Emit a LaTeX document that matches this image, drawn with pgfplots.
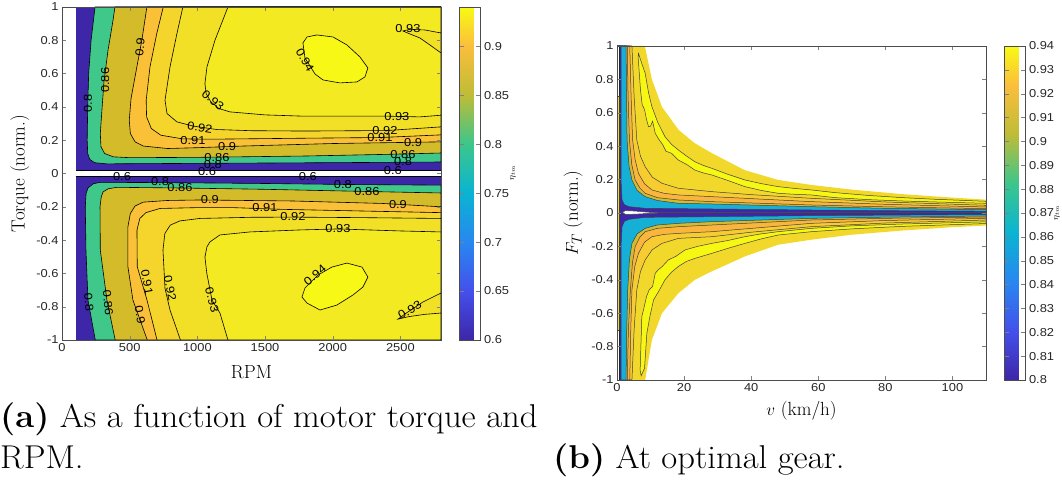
\documentclass[border=0pt]{standalone}
\usepackage{fontspec}
\usepackage{graphicx}
\usepackage{pgfplots}
\pgfplotsset{compat=1.18}
\newfontfamily\tickfamily{Liberation Sans}[FakeStretch=1.12]
\newcommand\tf{\fontsize{11.5}{13}\tickfamily}
\newcommand\lf{\fontsize{19}{22}\selectfont}
\newcommand\cf{\fontsize{33}{40}\selectfont}
% left map colours
\definecolor{lB}{RGB}{62,38,168}
\definecolor{lG}{RGB}{64,200,138}
\definecolor{lO}{RGB}{212,187,42}
\definecolor{l90}{RGB}{250,192,55}
\definecolor{l91}{RGB}{245,212,44}
\definecolor{l92}{RGB}{241,224,38}
\definecolor{l93}{RGB}{243,234,33}
\definecolor{l94}{RGB}{248,248,22}
% right map colours
\definecolor{rB}{RGB}{62,38,168}
\definecolor{rC}{RGB}{22,176,214}
\definecolor{rO}{RGB}{214,186,46}
\definecolor{rOr}{RGB}{250,182,60}
\definecolor{rGd}{RGB}{246,204,48}
\definecolor{rY}{RGB}{242,216,42}
\definecolor{rBr}{RGB}{247,247,20}
\pgfplotsset{
  colormap={myparula}{rgb255(0cm)=(62,38,168) rgb255(1.47cm)=(68,80,235) rgb255(2.94cm)=(40,135,240) rgb255(4.41cm)=(10,180,210) rgb255(5.88cm)=(60,198,140) rgb255(7.35cm)=(190,188,55) rgb255(8.82cm)=(250,190,60) rgb255(10cm)=(249,250,20)},
  mystyle/.style={scale only axis, axis on top, tick label style={font=\tf, color=black!85},
    /pgf/number format/assume math mode=true, /pgf/number format/1000 sep={},
    scaled ticks=false, axis line style={black!70}, label style={font=\lf}},
  cbstyle/.style={at={(parent axis.north east)}, anchor=north west, xshift=10pt, width=21pt, scale only axis,
    tick label style={font=\tf, color=black!85}, /pgf/number format/assume math mode=true,
    /pgf/number format/precision=2, axis line style={black!70}},
}
\tikzset{lab/.style={font=\tf, inner sep=0.5pt}}
\begin{document}
\begin{tikzpicture}
\useasboundingbox (0pt,0pt) rectangle (1062pt,479pt);
% ================= LEFT =================
\begin{axis}[mystyle, at={(62pt,139pt)}, anchor=south west, width=379pt, height=333pt,
  xmin=0, xmax=2800, ymin=-1, ymax=1,
  xtick={0,500,1000,1500,2000,2500}, ytick={-1,-0.8,-0.6,-0.4,-0.2,0,0.2,0.4,0.6,0.8,1},
  xlabel={RPM}, xlabel style={at={(axis description cs:0.5,-0.098)}, anchor=center},
  ylabel={Torque (norm.)}, ylabel style={at={(axis description cs:-0.111,0.5)}, anchor=center},
  colormap name=myparula, colorbar, point meta min=0.6, point meta max=0.94,
  colorbar style={cbstyle, height=333pt, ytick={0.6,0.65,0.7,0.75,0.8,0.85,0.9}},
  every axis plot/.append style={line width=0.6pt}]
% base blue
\addplot[fill=lB, draw=none] coordinates {(100,0.021) (2800,0.021) (2800,1) (100,1)} -- cycle;
\addplot[fill=lB, draw=none] coordinates {(100,-0.018) (2800,-0.018) (2800,-1) (100,-1)} -- cycle;
\addplot[black] coordinates {(100,0.021) (2800,0.021)};
\addplot[black] coordinates {(100,-0.018) (2800,-0.018)};
% upper half
\addplot[fill=lG, draw=black] coordinates {(244,1) (215,0.8) (197,0.6) (190,0.4) (186,0.2) (190,0.12) (205,0.085) (240,0.065) (330,0.058) (800,0.06) (1500,0.063) (2200,0.066) (2800,0.069) (2800,1)} -- cycle;
\addplot[fill=lO, draw=black] coordinates {(391,1) (377,0.92) (340,0.74) (310,0.55) (295,0.38) (283,0.24) (288,0.16) (315,0.12) (380,0.1) (500,0.095) (1000,0.097) (1800,0.105) (2400,0.115) (2800,0.123) (2800,1)} -- cycle;
\addplot[fill=l90, draw=black] coordinates {(627,1) (590,0.8) (553,0.64) (510,0.45) (497,0.32) (505,0.24) (540,0.19) (600,0.165) (780,0.15) (1000,0.155) (1340,0.165) (2000,0.18) (2800,0.19) (2800,1)} -- cycle;
\addplot[fill=l91, draw=black] coordinates {(748,1) (700,0.84) (650,0.64) (622,0.44) (625,0.34) (660,0.27) (730,0.23) (890,0.208) (1100,0.206) (1800,0.212) (2350,0.216) (2800,0.232) (2800,1)} -- cycle;
\addplot[fill=l92, draw=black] coordinates {(893,1) (849,0.84) (798,0.64) (761,0.44) (776,0.36) (849,0.31) (968,0.285) (1145,0.264) (1400,0.257) (1800,0.255) (2400,0.258) (2800,0.28) (2800,1)} -- cycle;
\addplot[fill=l93, draw=black] coordinates {(1226,1) (1130,0.8) (1071,0.64) (1056,0.54) (1065,0.48) (1100,0.43) (1160,0.39) (1241,0.37) (1500,0.352) (1758,0.345) (2371,0.345) (2644,0.34) (2800,0.35) (2800,0.724) (2718,0.772) (2644,0.814) (2570,0.838) (2519,0.856) (2570,0.866) (2681,0.862) (2800,0.844) (2800,1)} -- cycle;
\addplot[fill=l94, draw=black] coordinates {(1780,0.784) (1810,0.82) (1883,0.832) (2002,0.82) (2105,0.772) (2201,0.70) (2260,0.634) (2238,0.58) (2179,0.55) (2053,0.544) (1928,0.562) (1869,0.598) (1795,0.694)} -- cycle;
% lower half
\addplot[fill=lG, draw=black] coordinates {(246,-1) (192,-0.76) (177,-0.46) (172,-0.2) (178,-0.12) (192,-0.087) (230,-0.062) (281,-0.053) (800,-0.055) (1500,-0.06) (2100,-0.066) (2800,-0.07) (2800,-1)} -- cycle;
\addplot[fill=lO, draw=black] coordinates {(393,-1) (332,-0.76) (283,-0.46) (281,-0.2) (290,-0.14) (303,-0.111) (340,-0.092) (406,-0.083) (870,-0.087) (1500,-0.095) (2250,-0.108) (2800,-0.117) (2800,-1)} -- cycle;
\addplot[fill=l90, draw=black] coordinates {(630,-1) (524,-0.76) (487,-0.56) (487,-0.32) (505,-0.24) (540,-0.195) (600,-0.172) (780,-0.162) (1019,-0.159) (1700,-0.165) (2371,-0.18) (2800,-0.2) (2800,-1)} -- cycle;
\addplot[fill=l91, draw=black] coordinates {(702,-1) (628,-0.76) (556,-0.56) (554,-0.34) (575,-0.27) (620,-0.235) (724,-0.21) (1000,-0.205) (1263,-0.205) (1610,-0.215) (2200,-0.225) (2800,-0.235) (2800,-1)} -- cycle;
\addplot[fill=l92, draw=black] coordinates {(875,-1) (798,-0.82) (761,-0.69) (746,-0.46) (760,-0.36) (800,-0.31) (870,-0.285) (1019,-0.27) (1400,-0.263) (1706,-0.262) (2200,-0.265) (2800,-0.27) (2800,-1)} -- cycle;
\addplot[fill=l93, draw=black] coordinates {(1226,-1) (1167,-0.838) (1108,-0.76) (1070,-0.6) (1056,-0.502) (1071,-0.44) (1093,-0.411) (1167,-0.369) (1389,-0.351) (1758,-0.339) (2039,-0.333) (2497,-0.345) (2800,-0.351) (2800,-0.718) (2666,-0.772) (2540,-0.84) (2482,-0.875) (2560,-0.86) (2680,-0.846) (2800,-0.838) (2800,-1)} -- cycle;
\addplot[fill=l94, draw=black] coordinates {(1810,-0.778) (1906,-0.82) (2031,-0.79) (2149,-0.73) (2223,-0.682) (2260,-0.622) (2216,-0.562) (2105,-0.538) (1994,-0.562) (1891,-0.61) (1795,-0.688) (1773,-0.742)} -- cycle;
% contour labels
\node[lab, rotate=90] at (axis cs:192,0.42) {0.8};
\node[lab, rotate=90] at (axis cs:318,0.56) {0.86};
\node[lab, rotate=85] at (axis cs:576,0.76) {0.9};
\node[lab, rotate=-40] at (axis cs:1115,0.44) {0.93};
\node[lab, rotate=-8] at (axis cs:1019,0.275) {0.92};
\node[lab] at (axis cs:968,0.2) {0.91};
\node[lab] at (axis cs:1219,0.16) {0.9};
\node[lab] at (axis cs:1145,0.093) {0.86};
\node[lab] at (axis cs:1115,0.055) {0.8};
\node[lab] at (axis cs:1071,0.012) {0.6};
\node[lab, rotate=-60] at (axis cs:1795,0.68) {0.94};
\node[lab] at (axis cs:2556,0.868) {0.93};
\node[lab] at (axis cs:2474,0.345) {0.93};
\node[lab] at (axis cs:2386,0.255) {0.92};
\node[lab] at (axis cs:2349,0.213) {0.91};
\node[lab] at (axis cs:2593,0.183) {0.9};
\node[lab] at (axis cs:2519,0.111) {0.86};
\node[lab] at (axis cs:2519,0.069) {0.8};
\node[lab] at (axis cs:2445,0.015) {0.6};
\node[lab] at (axis cs:443,-0.02) {0.6};
\node[lab] at (axis cs:1817,-0.021) {0.6};
\node[lab] at (axis cs:724,-0.05) {0.8};
\node[lab] at (axis cs:2075,-0.069) {0.8};
\node[lab] at (axis cs:871,-0.087) {0.86};
\node[lab] at (axis cs:2253,-0.111) {0.86};
\node[lab] at (axis cs:1093,-0.159) {0.9};
\node[lab] at (axis cs:2482,-0.189) {0.9};
\node[lab] at (axis cs:1499,-0.207) {0.91};
\node[lab] at (axis cs:1706,-0.261) {0.92};
\node[lab] at (axis cs:2039,-0.333) {0.93};
\node[lab, rotate=40] at (axis cs:1869,-0.61) {0.94};
\node[lab, rotate=30] at (axis cs:2570,-0.82) {0.93};
\node[lab, rotate=-75] at (axis cs:1108,-0.76) {0.93};
\node[lab, rotate=-85] at (axis cs:199,-0.772) {0.8};
\node[lab, rotate=-85] at (axis cs:340,-0.778) {0.86};
\node[lab, rotate=-80] at (axis cs:628,-0.652) {0.91};
\node[lab, rotate=-80] at (axis cs:576,-0.85) {0.9};
\node[lab, rotate=-78] at (axis cs:798,-0.688) {0.92};
\end{axis}
\node[rotate=90, font=\fontsize{9}{10}\selectfont] at (513pt,306pt) {$\eta_{tm}$};
% ================= RIGHT =================
\begin{axis}[mystyle, at={(617pt,99pt)}, anchor=south west, width=369pt, height=334pt,
  xmin=0, xmax=110, ymin=-1, ymax=1,
  xtick={0,20,40,60,80,100}, ytick={-1,-0.8,-0.6,-0.4,-0.2,0,0.2,0.4,0.6,0.8,1},
  xlabel={$v$ (km/h)}, xlabel style={at={(axis description cs:0.5,-0.092)}, anchor=center},
  ylabel={$F_T$ (norm.)}, ylabel style={at={(axis description cs:-0.119,0.5)}, anchor=center},
  colormap name=myparula, colorbar, point meta min=0.8, point meta max=0.94,
  colorbar style={cbstyle, height=334pt, ytick={0.8,0.81,0.82,0.83,0.84,0.85,0.86,0.87,0.88,0.89,0.9,0.91,0.92,0.93,0.94}},
  every axis plot/.append style={line width=0.5pt}]
% upper half: region below each contour, painted from the outside in
\addplot[fill=rY, draw=none] coordinates {(0,1) (8.3,1) (10.4,0.8) (13.4,0.635) (18.4,0.497) (23.1,0.419) (28.2,0.359) (38,0.257) (48,0.198) (57.9,0.168) (70,0.14) (85,0.113) (100,0.092) (110,0.08) (110,0) (0,0)} -- cycle;
\addplot[fill=rGd, draw=black!75] coordinates {(0,1) (4.45,1) (5.1,0.7) (5.9,0.437) (7.0,0.34) (8.4,0.277) (10.5,0.215) (13.4,0.178) (18.3,0.148) (28.2,0.128) (40,0.11) (57.9,0.088) (80,0.066) (110,0.046) (110,0) (0,0)} -- cycle;
\addplot[fill=rOr, draw=black!75] coordinates {(0,1) (3.8,1) (4.2,0.7) (4.65,0.437) (5.4,0.32) (6.4,0.237) (8.2,0.175) (10.4,0.138) (14,0.118) (18.3,0.108) (28.2,0.098) (57.9,0.068) (80,0.052) (110,0.036) (110,0) (0,0)} -- cycle;
\addplot[fill=rO, draw=black!75] coordinates {(0,1) (3.06,1) (3.3,0.7) (3.7,0.437) (4.4,0.29) (5.4,0.198) (6.8,0.15) (8.4,0.118) (12,0.092) (18.3,0.078) (28.2,0.068) (57.9,0.048) (80,0.037) (110,0.026) (110,0) (0,0)} -- cycle;
\addplot[fill=rC, draw=black!75] coordinates {(0,1) (2.7,1) (2.85,0.7) (3.0,0.437) (3.6,0.28) (4.45,0.198) (6,0.135) (8.4,0.098) (12,0.075) (18.3,0.058) (28.2,0.054) (57.9,0.038) (80,0.028) (110,0.02) (110,0) (0,0)} -- cycle;
\addplot[fill=rB, draw=black!75] coordinates {(0,1) (1.2,1) (1.2,0.198) (1.5,0.078) (2.2,0.05) (3.5,0.038) (8.4,0.028) (28.2,0.024) (57.9,0.018) (80,0.014) (110,0.01) (110,0) (0,0)} -- cycle;
% lower half
\addplot[fill=rY, draw=none] coordinates {(0,-1) (8.4,-1) (10.4,-0.76) (13.4,-0.6) (18.3,-0.48) (23.2,-0.4) (28.2,-0.35) (38.1,-0.26) (48,-0.19) (57.9,-0.16) (70,-0.13) (85,-0.105) (100,-0.085) (110,-0.075) (110,0) (0,0)} -- cycle;
\addplot[fill=rGd, draw=black!75] coordinates {(0,-1) (4.45,-1) (5.1,-0.7) (5.9,-0.46) (7.0,-0.35) (8.4,-0.281) (10.5,-0.22) (13.4,-0.182) (18.3,-0.152) (28.2,-0.142) (40,-0.115) (57.9,-0.082) (80,-0.06) (110,-0.042) (110,0) (0,0)} -- cycle;
\addplot[fill=rOr, draw=black!75] coordinates {(0,-1) (3.8,-1) (4.1,-0.7) (4.45,-0.46) (5.3,-0.32) (6.4,-0.241) (8.2,-0.175) (10.4,-0.142) (14,-0.128) (18.3,-0.122) (28.2,-0.112) (57.9,-0.062) (80,-0.045) (110,-0.032) (110,0) (0,0)} -- cycle;
\addplot[fill=rO, draw=black!75] coordinates {(0,-1) (3.06,-1) (3.4,-0.7) (4.0,-0.46) (4.6,-0.3) (5.4,-0.201) (6.8,-0.145) (8.4,-0.112) (12,-0.092) (18.3,-0.082) (28.2,-0.072) (57.9,-0.042) (80,-0.032) (110,-0.024) (110,0) (0,0)} -- cycle;
\addplot[fill=rC, draw=black!75] coordinates {(0,-1) (2.7,-1) (2.9,-0.7) (3.2,-0.46) (3.7,-0.28) (4.45,-0.182) (6,-0.125) (8.4,-0.092) (12,-0.072) (18.3,-0.062) (28.2,-0.052) (57.9,-0.032) (80,-0.025) (110,-0.018) (110,0) (0,0)} -- cycle;
\addplot[fill=rB, draw=black!75] coordinates {(0,-1) (1.2,-1) (1.2,-0.2) (1.5,-0.082) (2.2,-0.05) (3.5,-0.038) (8.4,-0.026) (28.2,-0.022) (57.9,-0.016) (80,-0.013) (110,-0.009) (110,0) (0,0)} -- cycle;
% ridges (>0.94)
\addplot[fill=rBr, draw=black!75] coordinates {(6.4,0.956) (7.3,0.9) (8.4,0.837) (9.4,0.72) (10.4,0.637) (12.2,0.54) (14.3,0.457) (16.3,0.41) (18.3,0.377) (20.8,0.34) (23.2,0.307) (25.7,0.285) (28.2,0.268) (33,0.232) (38.1,0.198) (43,0.176) (48,0.158) (53,0.147) (57.9,0.138) (65,0.122) (75,0.105) (85,0.092) (95,0.082) (110,0.07) (110,0.058) (95,0.066) (85,0.072) (75,0.08) (65,0.092) (57.9,0.108) (53,0.112) (48,0.118) (43,0.135) (38.1,0.158) (33,0.195) (28.2,0.228) (25.7,0.24) (23.2,0.257) (20.8,0.29) (18.3,0.317) (16.3,0.357) (14.6,0.37) (13.6,0.41) (12.5,0.44) (11.4,0.477) (10.6,0.55) (10.0,0.52) (9.4,0.517) (8.8,0.56) (8.2,0.62) (7.5,0.65) (7.0,0.737) (6.6,0.85) (6.3,0.93)} -- cycle;
\addplot[fill=rBr, draw=black!75] coordinates {(7.2,-0.975) (8.2,-0.93) (8.9,-0.72) (9.8,-0.62) (10.9,-0.52) (12.4,-0.47) (14.3,-0.40) (16.2,-0.355) (18.3,-0.32) (20.7,-0.29) (23.2,-0.272) (28.2,-0.242) (33,-0.212) (38.1,-0.182) (43,-0.155) (48,-0.132) (57.9,-0.112) (70,-0.095) (85,-0.08) (110,-0.063) (110,-0.053) (85,-0.066) (70,-0.077) (57.9,-0.092) (48,-0.112) (43,-0.125) (38.1,-0.142) (33,-0.165) (28.2,-0.182) (24,-0.2) (20.3,-0.221) (17.5,-0.26) (15.3,-0.281) (13.5,-0.32) (12.3,-0.34) (11.4,-0.361) (10.6,-0.44) (9.6,-0.46) (8.8,-0.5) (7.9,-0.58) (7.4,-0.62) (7.2,-0.75) (6.9,-0.94)} -- cycle;
% white wedge near zero force
\addplot[fill=white, draw=black!75] coordinates {(1.6,0.004) (2.5,0.014) (4,0.013) (6.4,0.01) (9,0.005) (12,0.002) (12,-0.001) (9,-0.003) (6.4,-0.006) (4,-0.008) (2.5,-0.008)} -- cycle;
% strip at very low speed
\addplot[fill=white, draw=none] coordinates {(0,-1) (0.7,-1) (0.7,1) (0,1)} -- cycle;
\addplot[fill=rY, draw=black!75] coordinates {(0.05,-0.7) (0.7,-0.7) (0.7,0.7) (0.05,0.7)} -- cycle;
\addplot[black!85] coordinates {(0.7,0.7) (0.7,1)};
\addplot[black!85] coordinates {(0.7,-0.7) (0.7,-1)};
\end{axis}
\node[rotate=90, font=\fontsize{9}{10}\selectfont] at (1057pt,266pt) {$\eta_{tm}$};
% captions
\node[anchor=base west, inner sep=0pt, font=\cf] at (0pt,51pt) {\scalebox{1.05}[1]{\textbf{(a)} As a function of motor torque and}};
\node[anchor=base west, inner sep=0pt, font=\cf] at (0pt,11pt) {\scalebox{1.05}[1]{RPM.}};
\node[anchor=base west, inner sep=0pt, font=\cf] at (553pt,11pt) {\scalebox{1.05}[1]{\textbf{(b)} At optimal gear.}};
\end{tikzpicture}
\end{document}
